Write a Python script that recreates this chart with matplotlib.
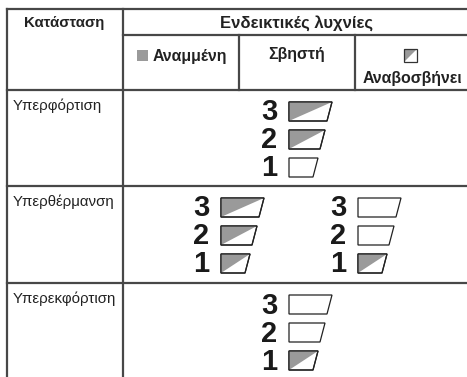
import matplotlib
matplotlib.use("Agg")
import matplotlib.pyplot as plt
from matplotlib.patches import Polygon

plt.rcParams['font.family'] = ['Liberation Sans', 'DejaVu Sans']

# table text
col_state = "Κατάσταση"
col_lamps = "Ενδεικτικές λυχνίες"
legend_labels = ["Αναμμένη", "Σβηστή", "Αναβοσβήνει"]
states = ["Υπερφόρτιση", "Υπερθέρμανση", "Υπερεκφόρτιση"]

# lamp numbers, top to bottom
lamp_nums = ["3", "2", "1"]
# lamp status per state, one list per lamp group ('blink' / 'off')
status_overload = [["blink", "blink", "off"]]
status_overheat = [["blink", "blink", "blink"], ["off", "off", "blink"]]
status_discharge = [["off", "off", "blink"]]
all_status = [status_overload, status_overheat, status_discharge]

LINE = "#474747"
GRAY = "#9a9a9a"
TXT = "#222222"

fig = plt.figure(figsize=(4.67, 3.77), dpi=100)
ax = fig.add_axes([0, 0, 1, 1])
ax.set_xlim(0, 467)
ax.set_ylim(377, 0)
ax.axis("off")

# grid lines
x_left, x_col, x_end = 7, 123, 467
y_top, y_sub, y_head = 8.5, 35, 90
row_lines = [y_head, 186, 283]
lw = 1.6
ax.plot([x_left, x_end], [y_top, y_top], color=LINE, lw=lw)
ax.plot([x_col, x_end], [y_sub, y_sub], color=LINE, lw=lw)
for y in row_lines:
    ax.plot([x_left, x_end], [y, y], color=LINE, lw=lw)
ax.plot([x_left, x_left], [y_top, 377], color=LINE, lw=lw)
ax.plot([x_col, x_col], [y_top, 377], color=LINE, lw=lw)
ax.plot([239, 239], [y_sub, y_head], color=LINE, lw=lw)
ax.plot([355, 355], [y_sub, y_head], color=LINE, lw=lw)

# header
ax.text(64, 23, col_state, ha="center", va="center", fontsize=10.8, fontweight="bold", color=TXT)
ax.text(297, 23, col_lamps, ha="center", va="center", fontsize=12, fontweight="bold", color=TXT)

# legend row
hfs = 11.4
ax.add_patch(Polygon([(137, 50), (148, 50), (148, 61), (137, 61)], closed=True, fc=GRAY, ec="none"))
ax.text(153, 57, legend_labels[0], ha="left", va="center", fontsize=hfs, fontweight="bold", color=TXT)
ax.text(297, 55, legend_labels[1], ha="center", va="center", fontsize=hfs, fontweight="bold", color=TXT)
ax.add_patch(Polygon([(404, 49), (417, 49), (404, 62)], closed=True, fc=GRAY, ec="none"))
ax.add_patch(Polygon([(404, 49), (417, 49), (417, 62), (404, 62)], closed=True, fc="none", ec="#333333", lw=0.9))
ax.text(412, 78, legend_labels[2], ha="center", va="center", fontsize=hfs, fontweight="bold", color=TXT)

# state labels
for y, s in zip(row_lines, states):
    ax.text(13, y + 16, s, ha="left", va="center", fontsize=10.8, color=TXT)


def lamp(x, y, w, state, h=19, s=5):
    pts = [(x, y), (x + w, y), (x + w - s, y + h), (x, y + h)]
    ax.add_patch(Polygon(pts, closed=True, fc="white", ec="#222222", lw=0.9, zorder=2))
    if state == "blink":
        ax.add_patch(Polygon([(x, y), (x + w, y), (x, y + h)], closed=True,
                             fc=GRAY, ec="none", zorder=3))
        ax.add_patch(Polygon(pts, closed=True, fc="none", ec="#222222", lw=0.9, zorder=4))


widths = [43, 36, 29]
group_x = {1: [289], 2: [221, 358]}
for y0, groups in zip(row_lines, all_status):
    xs = group_x[len(groups)]
    for gx, group in zip(xs, groups):
        for k, (num, st) in enumerate(zip(lamp_nums, group)):
            top = y0 + 12 + 28 * k
            ax.text(gx - 20, top + 10.5, num, ha="center", va="center",
                    fontsize=21, fontweight="bold", color="#1a1a1a")
            lamp(gx, top, widths[k], st)

fig.savefig("out.png", dpi=100)
